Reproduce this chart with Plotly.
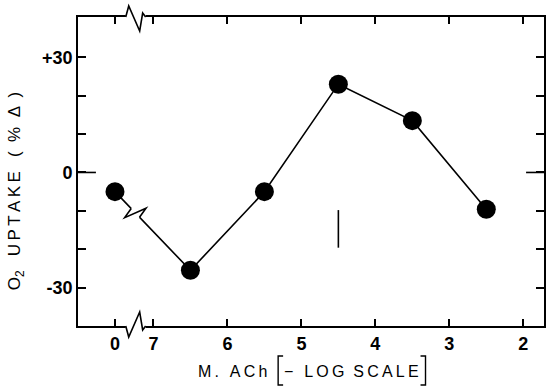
import math
import plotly.graph_objects as go

# ---- data ----
x_labels = ["0", "7", "6", "5", "4", "3", "2"]          # tick labels (-log M ACh; "0" = control)
x_tickpos = [7.52, 7, 6, 5, 4, 3, 2]                    # where those labels sit on the -log axis
conc_neglog = [7.52, 6.5, 5.5, 4.5, 3.5, 2.5]           # measured points (-log M ACh)
o2_uptake = [-5, -25.5, -5, 23, 13.5, -9.6]             # O2 uptake, % change
sd_x = [4.5, 4.5]                                       # lone error bar
sd_y = [-9.8, -19.6]
y_ticks = [-30, -20, -10, 0, 10, 20, 30]
y_ticktext = ["-30", "", "", "0", "", "", "+30"]

X_RANGE = [8.02, 1.72]
Y_RANGE = [-40, 40.5]
W, H = 548, 387
ML, MR, MT, MB = 78, 2, 17, 61
PW, PH = W - ML - MR, H - MT - MB
px_x = (X_RANGE[0] - X_RANGE[1]) / PW   # data units per pixel
px_y = (Y_RANGE[1] - Y_RANGE[0]) / PH

FONT = "Liberation Sans, Arial, sans-serif"
TS = "\u2009"  # thin space for letter spacing


def spaced(s):
    return TS.join(list(s))


def to_px(xd, yd):
    return ML + (X_RANGE[0] - xd) / px_x, MT + (Y_RANGE[1] - yd) / px_y


def ppath(pts):
    # pixel coordinates -> paper coordinates path
    return "M " + " L ".join(f"{(a - ML) / PW:.5f},{(MT + PH - b) / PH:.5f}" for a, b in pts)


fig = go.Figure()
fig.add_trace(go.Scatter(x=conc_neglog, y=o2_uptake, mode="lines+markers",
                         line=dict(color="black", width=1.6),
                         marker=dict(size=19, color="black"),
                         hoverinfo="x+y", showlegend=False))
fig.add_trace(go.Scatter(x=sd_x, y=sd_y, mode="lines",
                         line=dict(color="black", width=1.6), showlegend=False))

shapes = []


def add_path(pts, color="black", width=1.6):
    shapes.append(dict(type="path", xref="paper", yref="paper", path=ppath(pts),
                       line=dict(color=color, width=width), layer="above"))


# axis breaks (top and bottom)
brk_x = (x_tickpos[0] + x_tickpos[1]) / 2 - 0.02
for yval, s in ((Y_RANGE[0], 1), (Y_RANGE[1], -1)):
    cx, cy = to_px(brk_x, yval)
    add_path([(cx - 10, cy), (cx + 10, cy)], color="white", width=4)
    zig = [(-10, 0), (-7, 11 * s), (4, -14 * s), (7, 4 * s), (10, 0)]
    add_path([(cx + a, cy + b) for a, b in zig])

# break on the first segment of the data line
ax_, ay_ = to_px(conc_neglog[0], o2_uptake[0])
bx_, by_ = to_px(conc_neglog[1], o2_uptake[1])
L = math.hypot(bx_ - ax_, by_ - ay_)
ux, uy = (bx_ - ax_) / L, (by_ - ay_) / L
nx, ny = -uy, ux
cxp, cyp = ax_ + 0.27 * L * ux, ay_ + 0.27 * L * uy


def lp(a, b):
    return (cxp + a * ux + b * nx, cyp + a * uy + b * ny)


add_path([lp(-6, 0), lp(6, 0)], color="white", width=5)
add_path([lp(-6, 0), lp(-4, 11), lp(4, -11), lp(6, 0)])

# long zero ticks on left and right
zx0, zy = to_px(X_RANGE[0], 0)
add_path([(ML, zy), (ML + 18, zy)])
add_path([(ML + PW - 18, zy), (ML + PW, zy)])

# big brackets around "- LOG SCALE"
add_path([(284, 356), (279, 356), (279, 385), (284, 385)], width=1.4)
add_path([(422, 356), (427, 356), (427, 385), (422, 385)], width=1.4)

fig.update_layout(
    width=W, height=H,
    margin=dict(l=ML, r=MR, t=MT, b=MB),
    paper_bgcolor="white", plot_bgcolor="white",
    font=dict(family=FONT, size=16, color="black"),
    shapes=shapes,
    xaxis=dict(range=X_RANGE, tickvals=x_tickpos, ticktext=x_labels,
               ticks="inside", ticklen=7, tickwidth=1.6, tickcolor="black",
               showline=True, linecolor="black", linewidth=1.8, mirror="allticks",
               showgrid=False, zeroline=False,
               tickfont=dict(family=FONT, size=18, color="black", weight="bold")),
    yaxis=dict(range=Y_RANGE, tickvals=y_ticks, ticktext=y_ticktext,
               ticks="inside", ticklen=8, tickwidth=1.6, tickcolor="black",
               showline=True, linecolor="black", linewidth=1.8, mirror="allticks",
               showgrid=False, zeroline=False,
               tickfont=dict(family=FONT, size=18, color="black", weight="bold")),
    annotations=[
        dict(text=spaced("M. ACh"),
             xref="paper", yref="paper", x=(233 - ML) / PW, y=-(371 - (MT + PH)) / PH,
             showarrow=False, xanchor="center", yanchor="middle",
             font=dict(family=FONT, size=16, color="black")),
        dict(text=spaced("− LOG") + "&nbsp;&nbsp;" + spaced("SCALE"),
             xref="paper", yref="paper", x=(353 - ML) / PW, y=-(371 - (MT + PH)) / PH,
             showarrow=False, xanchor="center", yanchor="middle",
             font=dict(family=FONT, size=16, color="black")),
        dict(text="O<sub>2</sub>   " + spaced("UPTAKE") + "   (  %  Δ  )",
             xref="paper", yref="paper", x=(16 - ML) / PW, y=((MT + PH) - 191) / PH,
             textangle=-90, showarrow=False, xanchor="center", yanchor="middle",
             font=dict(family=FONT, size=17, color="black")),
    ],
)

fig.write_html("out.html")
